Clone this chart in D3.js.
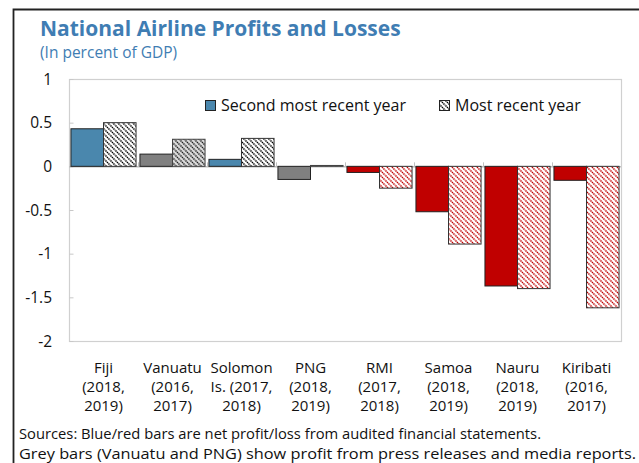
<!DOCTYPE html>
<html>
<head>
<meta charset="utf-8">
<script src="https://cdn.jsdelivr.net/npm/d3@7"></script>
<style>
  body { margin: 0; background: #fff; }
  svg { display: block; font-family: "Open Sans", "Noto Sans", sans-serif; }
</style>
</head>
<body>
<svg id="chart"></svg>
<script>
const width = 639;
const height = 463;

// data
const countries = ["Fiji", "Vanuatu", "Solomon Is.", "PNG", "RMI", "Samoa", "Nauru", "Kiribati"];
const labelLines = [
    ["Fiji", "(2018,", "2019)"],
    ["Vanuatu", "(2016,", "2017)"],
    ["Solomon", "Is. (2017,", "2018)"],
    ["PNG", "(2018,", "2019)"],
    ["RMI", "(2017,", "2018)"],
    ["Samoa", "(2018,", "2019)"],
    ["Nauru", "(2018,", "2019)"],
    ["Kiribati", "(2016,", "2017)"]
];
const secondMostRecent = [0.43, 0.14, 0.08, -0.15, -0.07, -0.52, -1.37, -0.16];
const mostRecent = [0.50, 0.31, 0.32, 0.01, -0.25, -0.89, -1.40, -1.62];
const source = ["audited", "press", "audited", "press", "audited", "audited", "audited", "audited"];
const yTicks = [1, 0.5, 0, -0.5, -1, -1.5, -2];
const seriesNames = ["Second most recent year", "Most recent year"];

const colors = {
    blue: "#4a87ad",
    grey: "#808080",
    red: "#c00000",
    title: "#3f7db3"
};

const margin = { top: 79, left: 69, right: 18, bottom: 122 };

const svg = d3.select("#chart")
    .attr("width", width)
    .attr("height", height);

// hatch patterns
const defs = svg.append("defs");
function hatch(id, line, bg) {
    const p = defs.append("pattern")
        .attr("id", id)
        .attr("patternUnits", "userSpaceOnUse")
        .attr("width", 5)
        .attr("height", 5);
    p.append("rect").attr("width", 5).attr("height", 5).attr("fill", bg);
    p.append("path")
        .attr("d", "M-1,-1 L6,6 M-1,4 L1,6 M4,-1 L6,1")
        .attr("stroke", line)
        .attr("stroke-width", 1.5)
        .attr("stroke-dasharray", "1.4,0.7");
}
hatch("hatch-black", "#000", "#fff");
hatch("hatch-grey", "#222", "#d9d9d9");
hatch("hatch-red", colors.red, "#fff");

// outer frame
svg.append("path")
    .attr("d", `M13.5,${height} V9.5 H${width}`)
    .attr("fill", "none")
    .attr("stroke", "#222")
    .attr("stroke-width", 1.8);

// title
svg.append("text")
    .attr("x", 40).attr("y", 36)
    .attr("font-size", 21).attr("font-weight", "bold")
    .attr("fill", colors.title)
    .text("National Airline Profits and Losses");
svg.append("text")
    .attr("x", 40).attr("y", 58)
    .attr("font-size", 15.5)
    .attr("fill", colors.title)
    .text("(In percent of GDP)");

const x = d3.scaleBand()
    .domain(countries)
    .range([margin.left, width - margin.right])
    .paddingInner(0)
    .paddingOuter(0);

const y = d3.scaleLinear()
    .domain([-2, 1])
    .range([height - margin.bottom, margin.top]);

const g = svg.append("g");

// plot frame
g.append("rect")
    .attr("x", margin.left + 0.5)
    .attr("y", margin.top + 0.5)
    .attr("width", width - margin.right - margin.left)
    .attr("height", height - margin.bottom - margin.top)
    .attr("fill", "none")
    .attr("stroke", "#d0d0d0")
    .attr("stroke-width", 1.2);

// y axis
const yAxis = g.append("g")
    .attr("transform", `translate(${margin.left + 0.5},0)`)
    .call(d3.axisRight(y).tickValues(yTicks).tickSize(4).tickFormat(""));
yAxis.select(".domain").remove();
yAxis.selectAll("line").attr("stroke", "#c8c8c8");

g.selectAll(".ylab")
    .data(yTicks)
    .enter().append("text")
    .attr("class", "ylab")
    .attr("x", 52)
    .attr("y", d => y(d) + 5.5)
    .attr("text-anchor", "end")
    .attr("font-size", 15.5)
    .attr("fill", "#111")
    .text(d => d);

// zero line with category ticks
g.append("line")
    .attr("x1", margin.left).attr("x2", width - margin.right)
    .attr("y1", y(0) + 0.5).attr("y2", y(0) + 0.5)
    .attr("stroke", "#c0c0c0")
    .attr("stroke-width", 1.5);
g.selectAll(".ctick")
    .data(countries.slice(1))
    .enter().append("line")
    .attr("x1", d => x(d) + 0.5).attr("x2", d => x(d) + 0.5)
    .attr("y1", y(0) - 4).attr("y2", y(0))
    .attr("stroke", "#c0c0c0");

const inner = d3.scaleBand()
    .domain([0, 1])
    .range([0, x.bandwidth()])
    .paddingOuter(0.06);

function solidFill(i) {
    if (source[i] === "press") return colors.grey;
    return secondMostRecent[i] >= 0 ? colors.blue : colors.red;
}
function hatchFill(i) {
    if (source[i] === "press") return "url(#hatch-grey)";
    return mostRecent[i] >= 0 ? "url(#hatch-black)" : "url(#hatch-red)";
}

// second most recent (solid)
g.selectAll(".bar1")
    .data(secondMostRecent)
    .enter().append("rect")
    .attr("class", "bar1")
    .attr("x", (d, i) => x(countries[i]) + inner(0))
    .attr("width", inner.bandwidth())
    .attr("y", d => y(Math.max(0, d)))
    .attr("height", d => Math.abs(y(d) - y(0)))
    .attr("fill", (d, i) => solidFill(i))
    .attr("stroke", "#222")
    .attr("stroke-width", 1);

// most recent (hatched)
g.selectAll(".bar2")
    .data(mostRecent)
    .enter().append("rect")
    .attr("class", "bar2")
    .attr("x", (d, i) => x(countries[i]) + inner(1))
    .attr("width", inner.bandwidth())
    .attr("y", d => y(Math.max(0, d)))
    .attr("height", d => Math.abs(y(d) - y(0)))
    .attr("fill", (d, i) => hatchFill(i))
    .attr("stroke", (d, i) => source[i] === "press" ? "#444" : "#333")
    .attr("stroke-width", 1);

// category labels, one text per line
const catLines = labelLines.flatMap((lines, i) => lines.map((t, j) => ({ t, i, j })));
g.selectAll(".cat")
    .data(catLines)
    .enter().append("text")
    .attr("class", "cat")
    .attr("text-anchor", "middle")
    .attr("font-size", 15)
    .attr("fill", "#111")
    .attr("x", d => x(countries[d.i]) + x.bandwidth() / 2)
    .attr("y", d => 373 + d.j * 19)
    .text(d => d.t);

// legend
const legend = g.append("g");
const legendX = [205, 439];
legend.selectAll("rect")
    .data(seriesNames)
    .enter().append("rect")
    .attr("x", (d, i) => legendX[i] + 0.5)
    .attr("y", 100.5)
    .attr("width", 10).attr("height", 10)
    .attr("fill", (d, i) => i === 0 ? colors.blue : "url(#hatch-black)")
    .attr("stroke", "#222");
legend.selectAll("text")
    .data(seriesNames)
    .enter().append("text")
    .attr("x", (d, i) => legendX[i] + 16)
    .attr("y", 111)
    .attr("font-size", 16)
    .attr("fill", "#111")
    .text(d => d);

// sources note
const notes = [
    "Sources: Blue/red bars are net profit/loss from audited financial statements.",
    "Grey bars (Vanuatu and PNG) show profit from press releases and media reports."
];
const noteWidths = [522, 617];
svg.selectAll(".note")
    .data(notes)
    .enter().append("text")
    .attr("class", "note")
    .attr("x", 19)
    .attr("y", (d, i) => 439 + i * 20)
    .attr("font-size", 14.5)
    .attr("fill", "#111")
    .attr("textLength", (d, i) => noteWidths[i])
    .attr("lengthAdjust", "spacingAndGlyphs")
    .text(d => d);
</script>
</body>
</html>
